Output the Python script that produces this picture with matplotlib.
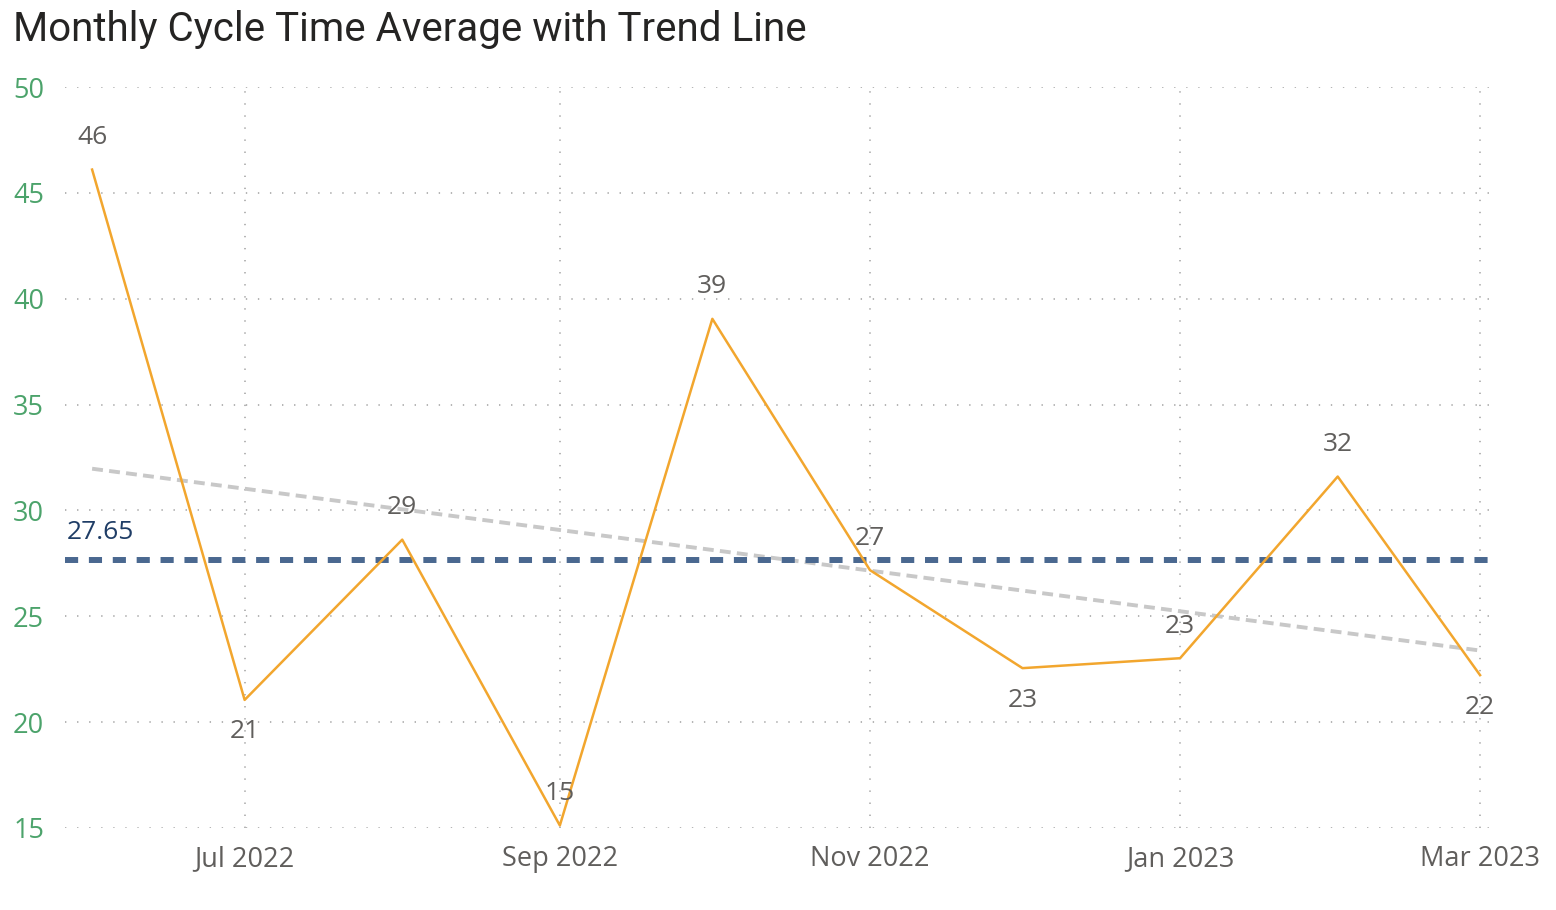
import numpy as np
import pandas as pd
import matplotlib
matplotlib.use('Agg')
import matplotlib.pyplot as plt
import matplotlib.dates as mdates

# Data (monthly average cycle time)
months = pd.to_datetime(['2022-06-01', '2022-07-01', '2022-08-01', '2022-09-01',
                         '2022-10-01', '2022-11-01', '2022-12-01', '2023-01-01',
                         '2023-02-01', '2023-03-01'])
cycle_time = [46.1, 21.05, 28.62, 15.12, 39.05, 27.18, 22.55, 23.02, 31.6, 22.22]
label_side = ['above', 'below', 'above', 'above', 'above',
              'above', 'below', 'above', 'above', 'below']
tick_months = pd.to_datetime(['2022-07-01', '2022-09-01', '2022-11-01',
                              '2023-01-01', '2023-03-01'])
y_ticks = [15, 20, 25, 30, 35, 40, 45, 50]

title = 'Monthly Cycle Time Average with Trend Line'

orange = '#F2A62E'
avg_col = '#4A6890'
trend_col = '#C8C8C8'
grid_col = '#B4B4B4'
label_col = '#605E5C'
ytick_col = '#4CA36B'

W, H = 1556, 910
fig = plt.figure(figsize=(W / 100, H / 100), dpi=100)
ax = fig.add_axes([65 / W, (H - 828) / H, (1497 - 65) / W, (828 - 87) / H])

x = mdates.date2num(months)
y = np.array(cycle_time)
x_lo = mdates.date2num(pd.Timestamp('2022-05-26 16:00'))
x_hi = mdates.date2num(pd.Timestamp('2023-03-04 08:00'))

# trend line (least squares) and average
k, m = np.polyfit(x, y, 1)
ax.plot([x[0], x[-1]], [k * x[0] + m, k * x[-1] + m], color=trend_col,
        lw=2.8, ls=(0, (2.8, 1.6)), zorder=2)
avg = y.mean()
ax.axhline(avg, color=avg_col, lw=4.3, ls=(0, (2.2, 1.8)), zorder=3)
ax.annotate(f'{avg:.2f}', (x_lo, avg), xytext=(1, 20), textcoords='offset points',
            color='#1F3D66', fontsize=19, family='Open Sans',
            va='center', ha='left', zorder=5)

ax.plot(x, y, color=orange, lw=1.8, zorder=4)

for xi, yi, side in zip(x, y, label_side):
    off = 23 if side == 'above' else -23
    ax.annotate(f'{yi:.0f}', (xi, yi), xytext=(0, off), textcoords='offset points',
                ha='center', va='center', fontsize=19, color=label_col,
                family='Open Sans', zorder=6)

ax.set_xlim(x_lo, x_hi)
ax.set_ylim(15, 50)
ax.set_yticks(y_ticks)
ax.set_xticks(mdates.date2num(tick_months))
ax.set_xticklabels([d.strftime('%b %Y') for d in tick_months])

for s in ax.spines.values():
    s.set_visible(False)
ax.tick_params(length=0)
ax.tick_params(axis='y', pad=15, labelcolor=ytick_col, labelsize=19.5)
ax.tick_params(axis='x', pad=12, labelcolor=label_col, labelsize=19.5)
for t in ax.get_xticklabels() + ax.get_yticklabels():
    t.set_family('Open Sans')
ax.grid(True, color=grid_col, lw=1.4, ls=(0, (0.7, 5.5)))
ax.set_axisbelow(True)

fig.text(13 / W, 1 - 10 / H, title, fontsize=29, family='Roboto',
         color='#252423', va='top', ha='left')

fig.savefig('out.png', dpi=100)
